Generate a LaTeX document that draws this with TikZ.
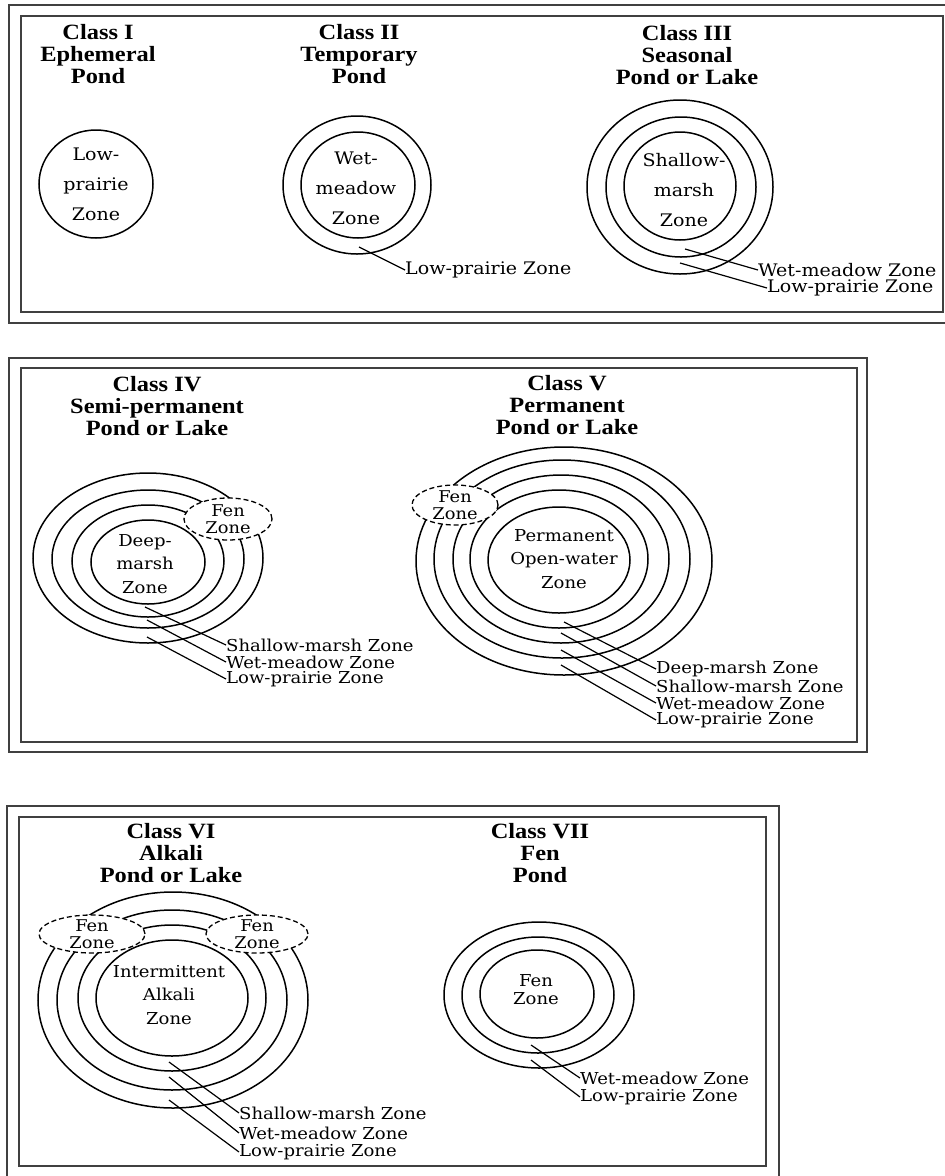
\documentclass[tikz,border=0pt]{standalone}
\usepackage{fontspec}
\setmainfont{DejaVu Serif}[FakeStretch=1.1]
\newfontfamily\headfont{Liberation Serif}[FakeStretch=1.12]
\usepackage{tikz}
\usetikzlibrary{shapes.geometric}

\tikzset{
    frame/.style={draw=black!75, line width=2pt},
    ring/.style={draw=black, line width=1.5pt},
    leader/.style={draw=black, line width=1.2pt},
    classhead/.style={align=center, inner sep=0pt, font=\headfont\bfseries\fontsize{21.8}{22}\selectfont},
    zonebig/.style={align=center, inner sep=0pt, font=\fontsize{17.3}{30}\selectfont},
    zonetext/.style={align=center, inner sep=0pt, font=\fontsize{16.4}{23.5}\selectfont},
    biglabel/.style={anchor=west, inner sep=0pt, font=\fontsize{17.3}{20}\selectfont},
    zonelabel/.style={anchor=west, inner sep=0pt, font=\fontsize{16.4}{18}\selectfont},
    fenzone/.style={ellipse, draw, fill=white, dash pattern=on 5pt off 3pt, line width=1.3pt, inner sep=0pt},
    fentext/.style={align=center, inner sep=0pt, font=\fontsize{16.2}{16.6}\selectfont},
}

\begin{document}
\begin{tikzpicture}[x=1pt, y=1pt]
    \useasboundingbox (0,0) rectangle (945,-1176);
    \clip (0,0) rectangle (945,-1176);

    % top panel
    \draw[frame] (9,-5) rectangle (960,-323);
    \draw[frame] (21,-16) rectangle (943,-312);

    \node[classhead] (headI) at (98,-54) {Class I\\Ephemeral\\Pond};
    \draw[ring] (96,-184) ellipse [x radius=57pt, y radius=54pt];
    \node[zonebig] (lowI) at (96,-184) {Low-\\prairie\\Zone};

    \node[classhead] (headII) at (359,-54) {Class II\\Temporary\\Pond};
    \draw[ring] (357,-185) ellipse [x radius=74pt, y radius=69pt];
    \draw[ring] (358,-185) ellipse [x radius=57pt, y radius=53pt];
    \node[zonebig] (wetII) at (356,-188) {Wet-\\meadow\\Zone};
    \coordinate (pII) at (359,-247);
    \node[biglabel] (lowII) at (405,-270) {Low-prairie Zone};
    \draw[leader] (pII) -- (lowII.west);

    \node[classhead] (headIII) at (687,-55) {Class III\\Seasonal\\Pond or Lake};
    \draw[ring] (680,-187) ellipse [x radius=93pt, y radius=87pt];
    \draw[ring] (681,-187) ellipse [x radius=75pt, y radius=70pt];
    \draw[ring] (680,-186) ellipse [x radius=56pt, y radius=54pt];
    \node[zonebig] (shIII) at (684,-190) {Shallow-\\marsh\\Zone};
    \coordinate (pIIIa) at (685,-249);
    \coordinate (pIIIb) at (680,-263);
    \node[biglabel] (wetIII) at (758,-270) {Wet-meadow Zone};
    \node[biglabel] (lowIII) at (767,-288) {Low-prairie Zone};
    \draw[leader] (pIIIa) -- (wetIII.west);
    \draw[leader] (pIIIb) -- (lowIII.west);

    % middle panel
    \draw[frame] (9,-358) rectangle (867,-752);
    \draw[frame] (21,-368) rectangle (857,-742);

    \node[classhead] (headIV) at (157,-406) {Class IV\\Semi-permanent\\Pond or Lake};
    \draw[ring] (148,-558) ellipse [x radius=115pt, y radius=85pt];
    \draw[ring] (148,-559) ellipse [x radius=96pt, y radius=69pt];
    \draw[ring] (148,-561) ellipse [x radius=76pt, y radius=56pt];
    \draw[ring] (148,-562) ellipse [x radius=57pt, y radius=42pt];
    \node[fenzone, minimum width=88pt, minimum height=42pt,
          label={[fentext]center:{Fen\\Zone}}] (fenIV) at (228,-519) {};
    \node[zonetext] (deepIV) at (145,-564) {Deep-\\marsh\\Zone};
    \coordinate (pIVa) at (145,-607);
    \coordinate (pIVb) at (147,-620);
    \coordinate (pIVc) at (147,-637);
    \node[zonelabel] (shIV) at (226,-645) {Shallow-marsh Zone};
    \node[zonelabel] (wetIV) at (226,-662) {Wet-meadow Zone};
    \node[zonelabel] (lowIV) at (226,-679) {Low-prairie Zone};
    \draw[leader] (pIVa) -- (shIV.west);
    \draw[leader] (pIVb) -- (wetIV.west);
    \draw[leader] (pIVc) -- (lowIV.west);

    \node[classhead] (headV) at (567,-405) {Class V\\Permanent\\Pond or Lake};
    \draw[ring] (564,-561) ellipse [x radius=148pt, y radius=114pt];
    \draw[ring] (562,-559) ellipse [x radius=128pt, y radius=99pt];
    \draw[ring] (561,-559) ellipse [x radius=108pt, y radius=84pt];
    \draw[ring] (559,-559) ellipse [x radius=89pt, y radius=69pt];
    \draw[ring] (559,-560) ellipse [x radius=71pt, y radius=53pt];
    \node[fenzone, minimum width=86pt, minimum height=40pt,
          label={[fentext]center:{Fen\\Zone}}] (fenV) at (455,-505) {};
    \node[zonetext] (openV) at (564,-559) {Permanent\\Open-water\\Zone};
    \coordinate (pVa) at (564,-622);
    \coordinate (pVb) at (561,-633);
    \coordinate (pVc) at (561,-650);
    \coordinate (pVd) at (561,-665);
    \node[zonelabel] (deepV) at (656,-669) {Deep-marsh Zone};
    \node[zonelabel] (shV) at (656,-686) {Shallow-marsh Zone};
    \node[zonelabel] (wetV) at (656,-703) {Wet-meadow Zone};
    \node[zonelabel] (lowV) at (656,-720) {Low-prairie Zone};
    \draw[leader] (pVa) -- (deepV.west);
    \draw[leader] (pVb) -- (shV.west);
    \draw[leader] (pVc) -- (wetV.west);
    \draw[leader] (pVd) -- (lowV.west);

    % bottom panel
    \draw[frame] (7,-806) rectangle (779,-1185);
    \draw[frame] (19,-817) rectangle (766,-1166);

    \node[classhead] (headVI) at (171,-853) {Class VI\\Alkali\\Pond or Lake};
    \draw[ring] (173,-1000) ellipse [x radius=135pt, y radius=108pt];
    \draw[ring] (172,-1000) ellipse [x radius=115pt, y radius=90pt];
    \draw[ring] (172,-998) ellipse [x radius=94pt, y radius=73pt];
    \draw[ring] (172,-998) ellipse [x radius=76pt, y radius=58pt];
    \node[fenzone, minimum width=106pt, minimum height=38pt,
          label={[fentext]center:{Fen\\Zone}}] (fenVIa) at (92,-934) {};
    \node[fenzone, minimum width=102pt, minimum height=38pt,
          label={[fentext]center:{Fen\\Zone}}] (fenVIb) at (257,-934) {};
    \node[zonetext] (alkVI) at (169,-995) {Intermittent\\Alkali\\Zone};
    \coordinate (pVIa) at (169,-1062);
    \coordinate (pVIb) at (169,-1077);
    \coordinate (pVIc) at (169,-1100);
    \node[zonelabel] (shVI) at (239,-1113) {Shallow-marsh Zone};
    \node[zonelabel] (wetVI) at (239,-1133) {Wet-meadow Zone};
    \node[zonelabel] (lowVI) at (239,-1152) {Low-prairie Zone};
    \draw[leader] (pVIa) -- (shVI.west);
    \draw[leader] (pVIb) -- (wetVI.west);
    \draw[leader] (pVIc) -- (lowVI.west);

    \node[classhead] (headVII) at (540,-853) {Class VII\\Fen\\Pond};
    \draw[ring] (539,-995) ellipse [x radius=95pt, y radius=73pt];
    \draw[ring] (538,-995) ellipse [x radius=76pt, y radius=58pt];
    \draw[ring] (537,-994) ellipse [x radius=57pt, y radius=44pt];
    \node[zonetext, font=\fontsize{16.4}{18}\selectfont] (fenVII) at (536,-990) {Fen\\Zone};
    \coordinate (pVIIa) at (531,-1045);
    \coordinate (pVIIb) at (531,-1060);
    \node[zonelabel] (wetVII) at (580,-1078) {Wet-meadow Zone};
    \node[zonelabel] (lowVII) at (580,-1097) {Low-prairie Zone};
    \draw[leader] (pVIIa) -- (wetVII.west);
    \draw[leader] (pVIIb) -- (lowVII.west);

\end{tikzpicture}
\end{document}
